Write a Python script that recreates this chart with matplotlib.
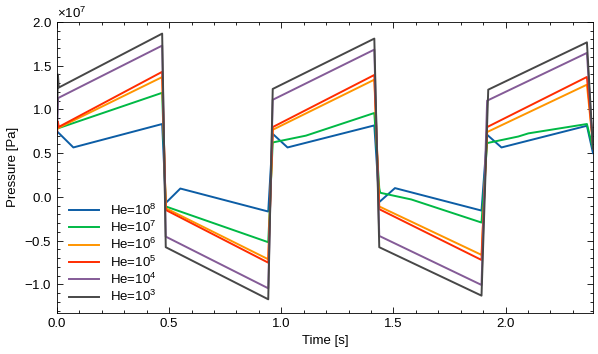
import numpy as np
import matplotlib
matplotlib.use('Agg')
import matplotlib.pyplot as plt
from matplotlib.ticker import MultipleLocator

# Knot points (time in s, pressure in 1e7 Pa)
tBlue = [0, 0.073, 0.469, 0.485, 0.550, 0.942, 0.962, 1.028, 1.415, 1.437, 1.507,
         1.893, 1.918, 1.982, 2.363, 2.390]
pBlue = [0.75, 0.565, 0.833, -0.07, 0.095, -0.168, 0.72, 0.565, 0.817, -0.06, 0.10,
         -0.157, 0.71, 0.565, 0.813, 0.50]

tGreen = [0, 0.469, 0.485, 0.942, 0.962, 1.11, 1.415, 1.437, 1.441, 1.444, 1.58,
          1.893, 1.918, 2.057, 2.102, 2.363, 2.390]
pGreen = [0.78, 1.19, -0.11, -0.519, 0.622, 0.70, 0.959, 0.10, 0.05, 0.045, -0.03,
          -0.294, 0.615, 0.69, 0.726, 0.833, 0.55]

tOrange = [0, 0.469, 0.485, 0.942, 0.962, 1.415, 1.437, 1.893, 1.918, 2.363, 2.390]
pOrange = [0.78, 1.37, -0.13, -0.714, 0.767, 1.34, -0.11, -0.664, 0.741, 1.283, 0.60]

tRed = [0, 0.004, 0.008, 0.469, 0.485, 0.942, 0.962, 1.415, 1.437, 1.893, 1.918, 2.363, 2.390]
pRed = [0.72, 0.86, 0.80, 1.43, -0.15, -0.753, 0.798, 1.394, -0.141, -0.722, 0.798, 1.371, 0.60]

tPurple = [0, 0.005, 0.469, 0.485, 0.942, 0.962, 1.415, 1.437, 1.893, 1.918, 2.363, 2.390]
pPurple = [0.78, 1.13, 1.73, -0.455, -1.046, 1.11, 1.684, -0.447, -1.008, 1.10, 1.646, 0.55]

tBlack = [0, 0.004, 0.008, 0.469, 0.485, 0.942, 0.962, 1.415, 1.437, 1.893, 1.923, 2.363, 2.390]
pBlack = [0.78, 1.40, 1.25, 1.867, -0.576, -1.172, 1.234, 1.81, -0.576, -1.13, 1.226, 1.767, 0.55]

series = [
    (tBlue, pBlue, '#0C5DA5', r'He=10$^8$'),
    (tGreen, pGreen, '#00B945', r'He=10$^7$'),
    (tOrange, pOrange, '#FF9500', r'He=10$^6$'),
    (tRed, pRed, '#FF2C00', r'He=10$^5$'),
    (tPurple, pPurple, '#845B97', r'He=10$^4$'),
    (tBlack, pBlack, '#474747', r'He=10$^3$'),
]

plt.rcParams['font.family'] = ['Liberation Sans', 'DejaVu Sans']
plt.rcParams['mathtext.fontset'] = 'custom'
plt.rcParams['mathtext.rm'] = 'Liberation Sans'
plt.rcParams['font.size'] = 9.5

fig = plt.figure(figsize=(5.98, 3.54), dpi=100)
ax = fig.add_axes([0.0953, 0.1167, 0.8963, 0.8212])

for t, p, col, lab in series:
    ax.plot(t, np.array(p) * 1e7, color=col, linewidth=1.4, label=lab)

ax.set_xlim(0, 2.39)
ax.set_ylim(-1.325e7, 2.0e7)
ax.xaxis.set_major_locator(MultipleLocator(0.5))
ax.xaxis.set_minor_locator(MultipleLocator(0.1))
ax.yaxis.set_major_locator(MultipleLocator(0.5e7))
ax.yaxis.set_minor_locator(MultipleLocator(0.1e7))
ax.ticklabel_format(axis='y', style='sci', scilimits=(7, 7), useMathText=True)
ax.tick_params(which='both', direction='in', top=True, right=True, width=0.6)
ax.tick_params(which='major', length=4)
ax.tick_params(which='minor', length=2)
for s in ax.spines.values():
    s.set_linewidth(0.6)

ax.set_xlabel('Time [s]')
ax.set_ylabel('Pressure [Pa]')
ax.legend(loc='lower left', frameon=False, handlelength=2.3, labelspacing=0.16,
          bbox_to_anchor=(0.0, -0.012))

fig.savefig('out.png', dpi=100)
